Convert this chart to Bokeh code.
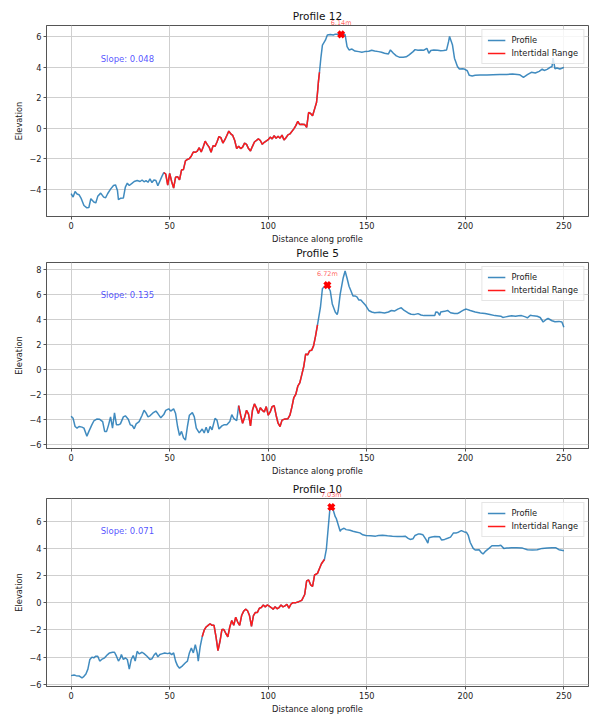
import numpy as np
from bokeh.plotting import figure
from bokeh.layouts import column
from bokeh.models import Range1d, FixedTicker, CustomJSTickFormatter, Label
from bokeh.core.properties import value
from bokeh.embed import file_html
from bokeh.resources import INLINE

# ---------------- data ----------------
titles = ["Profile 12", "Profile 5", "Profile 10"]
slopes = [0.048, 0.135, 0.071]
peak_x = [137, 130, 132]
peak_y = [6.14, 6.72, 7.03]
intertidal_start = [47, 85, 66.5]
intertidal_end = [126, 125, 128.5]

p12_dist = [0, 1, 2, 3, 4, 5, 6.5, 8, 9, 10, 11.5, 12.5, 13.5, 15, 16.5, 17.5, 18.5, 20, 21.5, 22.5,
            23.5, 24, 25, 26.5, 27.5, 28.5, 29.5, 31, 32, 33.5, 35, 36, 37, 38, 39, 40, 41, 42, 43, 44,
            45, 46, 47, 48, 49, 50, 51, 52, 53, 54, 55, 56, 57, 58, 59, 60, 61, 62, 63, 64, 65, 66, 67,
            68, 69, 70, 71, 72, 73, 74, 75, 76, 77, 78, 79, 80, 81, 82, 83, 84, 85, 86, 87, 88, 89, 90,
            91, 92, 93, 95, 96, 97, 98, 100, 101, 102, 103, 104, 105, 106, 107, 108, 109, 110, 111, 113,
            114, 115, 116, 117, 118.5, 119.5, 120.5, 121.5, 122.5, 123.5, 124.5, 125, 125.5, 126,
            126.7, 127.5, 129, 130, 131.5, 133, 134, 137, 138.5, 139, 140, 141, 142.5, 144, 146, 147.5,
            149, 151, 152.5, 154, 156, 157.5, 159, 161, 162, 163.5, 165, 166.5, 168.5, 170, 171.5,
            173.5, 174.5, 176, 177.5, 179, 180.5, 181.5, 182.5, 184, 186, 187.5, 189, 190.5, 191.5,
            192, 193.5, 194.5, 196, 197, 198.5, 199.5, 201, 202, 203.5, 205, 207.5, 211, 214, 217.5,
            221, 224, 227.5, 229.5, 231.5, 233.5, 235.5, 237.5, 239, 240, 241.5, 243, 244, 244.5,
            245.5, 246.5, 248, 249, 250]
p12_elev = [-4.28, -4.5, -4.13, -4.3, -4.34, -4.56, -5.05, -5.2, -5.18, -4.6, -4.82, -4.88, -4.45,
            -4.24, -4.5, -4.54, -4.28, -3.98, -3.74, -3.7, -4.06, -4.67, -4.58, -4.56, -3.85, -3.59,
            -3.74, -3.59, -3.48, -3.42, -3.48, -3.38, -3.5, -3.42, -3.53, -3.31, -3.55, -3.38, -3.42,
            -3.76, -3.46, -3.16, -2.9, -2.99, -3.72, -2.95, -3.48, -3.91, -3.2, -3.16, -3.38, -2.73,
            -2.69, -2.13, -2.04, -1.98, -1.81, -1.55, -1.57, -1.5, -1.27, -1.55, -1.23, -0.84, -1.05,
            -1.23, -1.57, -1.14, -1.18, -0.9, -0.54, -0.62, -0.97, -0.75, -0.47, -0.19, -0.37, -0.47,
            -0.8, -1.33, -1.18, -1.33, -1.23, -0.97, -1.05, -1.33, -1.48, -1.18, -0.9, -0.69, -0.8,
            -1.05, -0.92, -0.75, -0.58, -0.69, -0.49, -0.65, -0.52, -0.65, -0.45, -0.77, -0.62, -0.43,
            -0.37, -0.04, 0.17, 0.45, 0.24, 0.26, 0.24, 0.06, 1.03, 0.97, 0.82, 1.25, 1.68, 2.32, 3.08,
            3.66, 4.58, 5.44, 5.76, 6.09, 6.13, 6.09, 6.15, 6.14, 6.15, 6.12, 5.33, 5.12, 5.18, 5.05,
            5.01, 4.97, 5.01, 5.03, 5.1, 5.05, 5.01, 4.97, 4.9, 4.86, 5.12, 4.9, 4.73, 4.65, 4.65,
            4.67, 4.8, 5.01, 5.14, 5.1, 5.12, 5.1, 5.23, 4.9, 5.08, 5.12, 5.1, 5.06, 5.08, 5.12, 5.66,
            6.0, 5.44, 4.58, 4.04, 3.87, 3.89, 3.87, 3.76, 3.46, 3.42, 3.46, 3.48, 3.48, 3.5, 3.52,
            3.52, 3.55, 3.5, 3.33, 3.5, 3.66, 3.61, 3.72, 3.87, 3.78, 3.85, 3.98, 4.04, 4.58, 3.89,
            3.94, 3.87, 3.92, 3.98]

p5_dist = [0, 1, 2, 3, 4, 5.5, 6.5, 8, 9, 10.5, 11.5, 13, 14.5, 16, 17, 18, 19, 20, 21, 22, 23, 24,
           25, 26.5, 27.5, 29, 30, 31, 32, 33, 34.5, 36, 37, 38, 39, 40, 41.5, 43, 44, 45.5, 47, 48,
           49.5, 50.5, 52, 53, 54, 55, 56, 57, 58, 59, 60, 61.5, 62.5, 63.5, 65, 66.5, 67.5, 68.5,
           69.5, 70.5, 71.5, 73, 74, 75, 76.5, 77.5, 79, 80.5, 81.5, 82.5, 84, 85, 86, 87, 88, 89,
           90, 91, 92, 93, 94, 95, 96, 97, 98, 99, 100, 101, 102, 103, 104, 105, 106, 107, 108, 110,
           111, 112, 113, 114, 115, 116, 117, 118, 119, 120, 121, 122, 123, 124, 125, 126.5, 127.5,
           129, 130, 131.5, 132.5, 134, 135, 135.5, 136.5, 138, 139, 140, 141, 142, 143, 144, 145,
           146, 147, 148, 149.5, 151, 152.5, 154, 156.5, 159, 161, 162.5, 164, 166, 167.5, 169, 171,
           172.5, 174, 176, 177.5, 179, 181, 182.5, 184.5, 185, 186, 187, 187.5, 189.5, 191, 192.5,
           194.5, 196, 197.5, 199.5, 200.5, 202.5, 205, 207.5, 210, 212.5, 215, 218, 219, 220.5,
           222, 223.5, 225.5, 227, 228.5, 230.5, 231.5, 233, 234.5, 236.5, 238, 239.5, 241, 242,
           244, 245.5, 247.5, 249, 250]
p5_elev = [-3.73, -3.9, -4.55, -4.68, -4.55, -4.6, -4.68, -5.32, -4.94, -4.42, -4.11, -3.96, -3.98,
           -4.16, -4.94, -4.94, -4.42, -3.78, -4.68, -3.47, -4.42, -4.42, -4.34, -3.78, -3.7, -3.98,
           -4.42, -4.47, -4.73, -4.34, -4.16, -3.65, -3.26, -3.47, -3.78, -3.7, -3.47, -3.32, -3.52,
           -3.86, -3.6, -3.26, -3.14, -3.32, -3.14, -3.52, -4.55, -5.27, -4.94, -5.45, -5.63, -4.55,
           -3.65, -3.44, -3.78, -4.68, -5.06, -4.75, -5.06, -4.6, -5.06, -4.55, -4.81, -3.9, -4.04,
           -4.75, -4.5, -4.42, -4.42, -4.16, -3.6, -3.9, -4.09, -2.88, -3.65, -4.29, -3.83, -3.26,
           -3.57, -4.5, -3.26, -2.75, -3.06, -3.52, -3.06, -3.26, -3.39, -2.96, -3.65, -3.39, -2.96,
           -2.88, -3.65, -4.29, -4.55, -4.04, -3.98, -3.93, -3.65, -3.0, -2.24, -1.98, -1.34, -1.08,
           -0.44, 0.21, 1.23, 1.16, 1.49, 1.52, 1.88, 2.65, 3.55, 4.96, 6.45, 6.65, 6.72, 6.25, 5.22,
           4.58, 4.37, 4.7, 5.99, 7.27, 7.85, 7.27, 6.63, 6.25, 5.86, 5.86, 5.78, 5.53, 5.53, 5.35,
           5.09, 4.7, 4.58, 4.52, 4.55, 4.5, 4.58, 4.7, 4.65, 4.83, 4.91, 4.7, 4.5, 4.4, 4.37, 4.45,
           4.34, 4.29, 4.29, 4.29, 4.29, 4.58, 4.55, 4.32, 4.58, 4.63, 4.7, 4.52, 4.45, 4.45, 4.58,
           4.76, 4.81, 4.7, 4.58, 4.5, 4.45, 4.37, 4.29, 4.24, 4.14, 4.19, 4.24, 4.27, 4.24, 4.27,
           4.29, 4.19, 4.11, 4.32, 4.27, 4.24, 4.14, 3.78, 3.98, 4.06, 3.88, 3.8, 3.83, 3.78, 3.37]

p10_dist = [0, 1.5, 2.5, 4, 5.5, 6.5, 7.5, 8.5, 9.5, 10.5, 11.5, 12.5, 13.5, 14.5, 15.5, 17, 18.5,
            19.5, 21, 22, 23, 24, 25, 25.5, 26.5, 27.5, 28.5, 29.5, 30.5, 31.5, 32.5, 33.5, 34.5, 36,
            37, 38.5, 40, 41, 42, 43, 44, 45, 46, 47.5, 49, 50, 51, 52, 53, 54, 55, 56.5, 58, 59, 60,
            61, 62, 63, 64, 64.5, 65.5, 66.5, 67.5, 68.5, 69.5, 70.5, 71.5, 72.5, 73.5, 74.5, 75.5,
            76.5, 77.5, 78.5, 79.5, 80.5, 81.5, 82.5, 83.5, 84.5, 85.5, 86.5, 87.5, 88.5, 89.5, 90.5,
            91.5, 92.5, 93.5, 94.5, 95.5, 96.5, 97.5, 98.5, 99.5, 100.5, 101.5, 102.5, 103.5, 104.5,
            105.5, 106.5, 107.5, 108.5, 109.5, 110.5, 111.5, 112.5, 114, 115.5, 117, 118.5, 119.5,
            120.5, 121.5, 122.5, 123.5, 125, 126, 127, 128.5, 129.5, 130.5, 131.3, 132, 133, 134,
            134.5, 135.5, 136.5, 137, 138.5, 139.5, 141.5, 143, 144.5, 146.5, 148, 149.5, 152, 154.5,
            156, 158, 160.5, 163, 165.5, 168, 169.5, 171, 172, 173.5, 174.5, 176, 177, 178.5, 180,
            181, 181.5, 183, 184.5, 187, 188, 189.5, 191, 192.5, 194, 195.5, 196.5, 198, 199.5, 200.5,
            201.5, 202.5, 204, 205, 207, 208, 209, 210, 212, 213.5, 215, 217, 218, 219.5, 221, 223.5,
            226, 229, 231.5, 234, 236.5, 239, 241.5, 244, 246, 247.5, 249.5, 250]
p10_elev = [-5.37, -5.32, -5.37, -5.39, -5.54, -5.42, -5.25, -4.89, -4.18, -4.01, -4.06, -3.94, -3.94,
            -4.3, -4.18, -4.06, -3.82, -3.7, -3.65, -3.65, -3.94, -4.3, -4.06, -3.82, -4.18, -4.06,
            -4.18, -4.89, -4.18, -3.89, -4.3, -3.58, -3.77, -3.65, -3.75, -3.94, -4.18, -4.13, -3.87,
            -3.7, -3.99, -3.82, -3.77, -3.7, -3.75, -3.7, -3.82, -3.7, -4.3, -4.65, -4.82, -4.65,
            -4.42, -4.3, -3.7, -3.34, -3.7, -3.1, -3.7, -4.3, -3.22, -2.51, -2.03, -1.79, -1.67, -1.55,
            -1.67, -1.67, -2.51, -3.53, -2.86, -1.98, -1.98, -2.27, -2.51, -1.79, -1.31, -1.67, -1.07,
            -1.43, -1.67, -0.95, -0.64, -0.48, -0.6, -0.95, -1.74, -0.95, -0.72, -0.72, -0.41, -0.36,
            -0.17, -0.31, -0.17, -0.26, -0.36, -0.48, -0.31, -0.45, -0.36, -0.17, -0.31, -0.24, -0.12,
            -0.41, -0.12, 0.0, 0.0, 0.07, 0.17, 0.6, 1.6, 1.67, 1.31, 1.19, 2.03, 2.15, 2.51, 2.86,
            3.17, 3.94, 5.6, 6.92, 7.03, 6.8, 6.32, 6.2, 5.73, 5.25, 5.37, 5.47, 5.37, 5.32, 5.25,
            5.2, 5.13, 4.99, 4.94, 4.92, 4.89, 4.94, 4.96, 4.92, 4.89, 4.87, 4.87, 4.89, 4.73, 4.65,
            4.7, 4.94, 5.04, 5.04, 4.99, 4.65, 4.37, 4.77, 4.82, 4.87, 4.84, 4.6, 4.65, 4.73, 4.82,
            5.13, 5.13, 5.18, 5.3, 5.2, 5.18, 4.94, 4.42, 3.99, 3.87, 3.89, 3.7, 3.58, 3.75, 3.99,
            4.18, 4.18, 4.18, 4.22, 3.99, 4.01, 4.03, 4.03, 4.01, 3.89, 3.87, 3.89, 3.99, 4.01, 4.03,
            4.03, 3.89, 3.84, 3.82]

x_ticks = [0, 50, 100, 150, 200, 250]
y_ticks = [-6, -4, -2, 0, 2, 4, 6, 8]

all_dist = [p12_dist, p5_dist, p10_dist]
all_elev = [p12_elev, p5_elev, p10_elev]

# ---------------- style / layout ----------------
FONT = "DejaVu Sans"
W = 592
heights = [246, 232, 238]
borders_left = [40, 46, 42]
borders_right = [4, 2, 1]
borders_top = [25, 16, 15]
borders_bottom = [26, 27, 25]
TITLE_UP = [10, 9.5, 9.5]
LABEL_UP = [11, 11.5, 12.5]

minus_fmt = "return (tick < 0 ? '\u2212' : '') + Math.abs(tick).toString();"


def make(i):
    dist = np.array(all_dist[i], dtype=float)
    elev = np.array(all_elev[i], dtype=float)
    x0, x1 = dist.min(), dist.max()
    xpad = 0.05 * (x1 - x0)
    y0 = min(elev.min(), peak_y[i])
    y1 = max(elev.max(), peak_y[i])
    ypad = 0.05 * (y1 - y0)
    xr = (x0 - xpad, x1 + xpad)
    yr = (y0 - ypad, y1 + ypad)

    p = figure(width=W, height=heights[i], output_backend="svg", toolbar_location=None,
               x_range=Range1d(*xr), y_range=Range1d(*yr), title=None,
               min_border_left=borders_left[i], min_border_right=borders_right[i],
               min_border_top=borders_top[i], min_border_bottom=borders_bottom[i])

    # title: a label in the top side panel, centred over the axes
    p.add_layout(Label(x=(xr[0] + xr[1]) / 2, y=yr[1], y_offset=TITLE_UP[i], text=titles[i],
                       text_align="center", text_baseline="middle", text_font=FONT,
                       text_font_size="10.5px", text_color="#111111"), "above")

    p.xaxis.ticker = FixedTicker(ticks=x_ticks)
    p.yaxis.ticker = FixedTicker(ticks=y_ticks)
    p.xaxis.formatter = CustomJSTickFormatter(code=minus_fmt)
    p.yaxis.formatter = CustomJSTickFormatter(code=minus_fmt)
    p.xaxis.axis_label = "Distance along profile"
    p.yaxis.axis_label = "Elevation"
    for ax in (p.xaxis[0], p.yaxis[0]):
        ax.axis_line_color = "#555555"
        ax.major_tick_in = 0
        ax.major_tick_out = 3
        ax.major_tick_line_color = "#555555"
        ax.minor_tick_line_color = None
        ax.major_label_text_font = FONT
        ax.major_label_text_font_size = "8.2px"
        ax.major_label_text_color = "#222222"
        ax.major_label_standoff = 2
        ax.axis_label_text_font = FONT
        ax.axis_label_text_font_size = "8.3px"
        ax.axis_label_text_font_style = "normal"
        ax.axis_label_text_color = "#222222"
        ax.axis_label_standoff = 2
    p.outline_line_color = "#555555"
    p.outline_line_alpha = 1
    p.grid.grid_line_color = "#cfcfcf"
    p.grid.grid_line_width = 1

    p.line(dist, elev, line_color="#1f77b4", line_width=1.5, line_alpha=0.85,
           legend_label="Profile")
    mask = (dist >= intertidal_start[i]) & (dist <= intertidal_end[i])
    p.line(dist[mask], elev[mask], line_color="#ff1a1a", line_width=1.5, line_alpha=1.0,
           legend_label="Intertidal Range")

    p.scatter(x=[peak_x[i]], y=[peak_y[i]], marker="x", size=8, line_width=3.5,
              line_color="red")

    # peak label: inside the frame -> centre; above the frame -> top side panel (unclipped)
    frame_h = heights[i] - borders_top[i] - borders_bottom[i]
    marker_from_top = (yr[1] - peak_y[i]) / (yr[1] - yr[0]) * frame_h
    lbl = Label(x=peak_x[i], y=peak_y[i], text=f"{peak_y[i]:.2f}m",
                text_align="center", text_baseline="middle", y_offset=LABEL_UP[i],
                text_font=FONT, text_font_size="6.5px",
                text_color="red", text_alpha=0.65)
    if marker_from_top - LABEL_UP[i] - 4 < 0:
        p.add_layout(lbl, "above")
    else:
        p.add_layout(lbl)

    sx = xr[0] + 0.1 * (xr[1] - xr[0])
    sy = yr[0] + 0.8 * (yr[1] - yr[0])
    p.text(x=[sx], y=[sy], text=[f"Slope: {slopes[i]:.3f}"], text_align="left",
           text_baseline="bottom", text_font=value(FONT), text_font_size=value("8.5px"),
           text_color="blue", text_alpha=0.7)

    lg = p.legend[0]
    lg.location = "top_right"
    lg.label_text_font = FONT
    lg.label_text_font_size = "8.3px"
    lg.label_text_color = "#222222"
    lg.glyph_width = 18
    lg.glyph_height = 8
    lg.label_height = 8
    lg.label_standoff = 6
    lg.spacing = 3
    lg.padding = 5
    lg.margin = 4
    lg.border_line_color = "#cccccc"
    lg.background_fill_alpha = 0.8
    return p


plots = [make(i) for i in range(3)]
layout = column(*plots, spacing=0)
open("out.html", "w").write(file_html(layout, INLINE))
